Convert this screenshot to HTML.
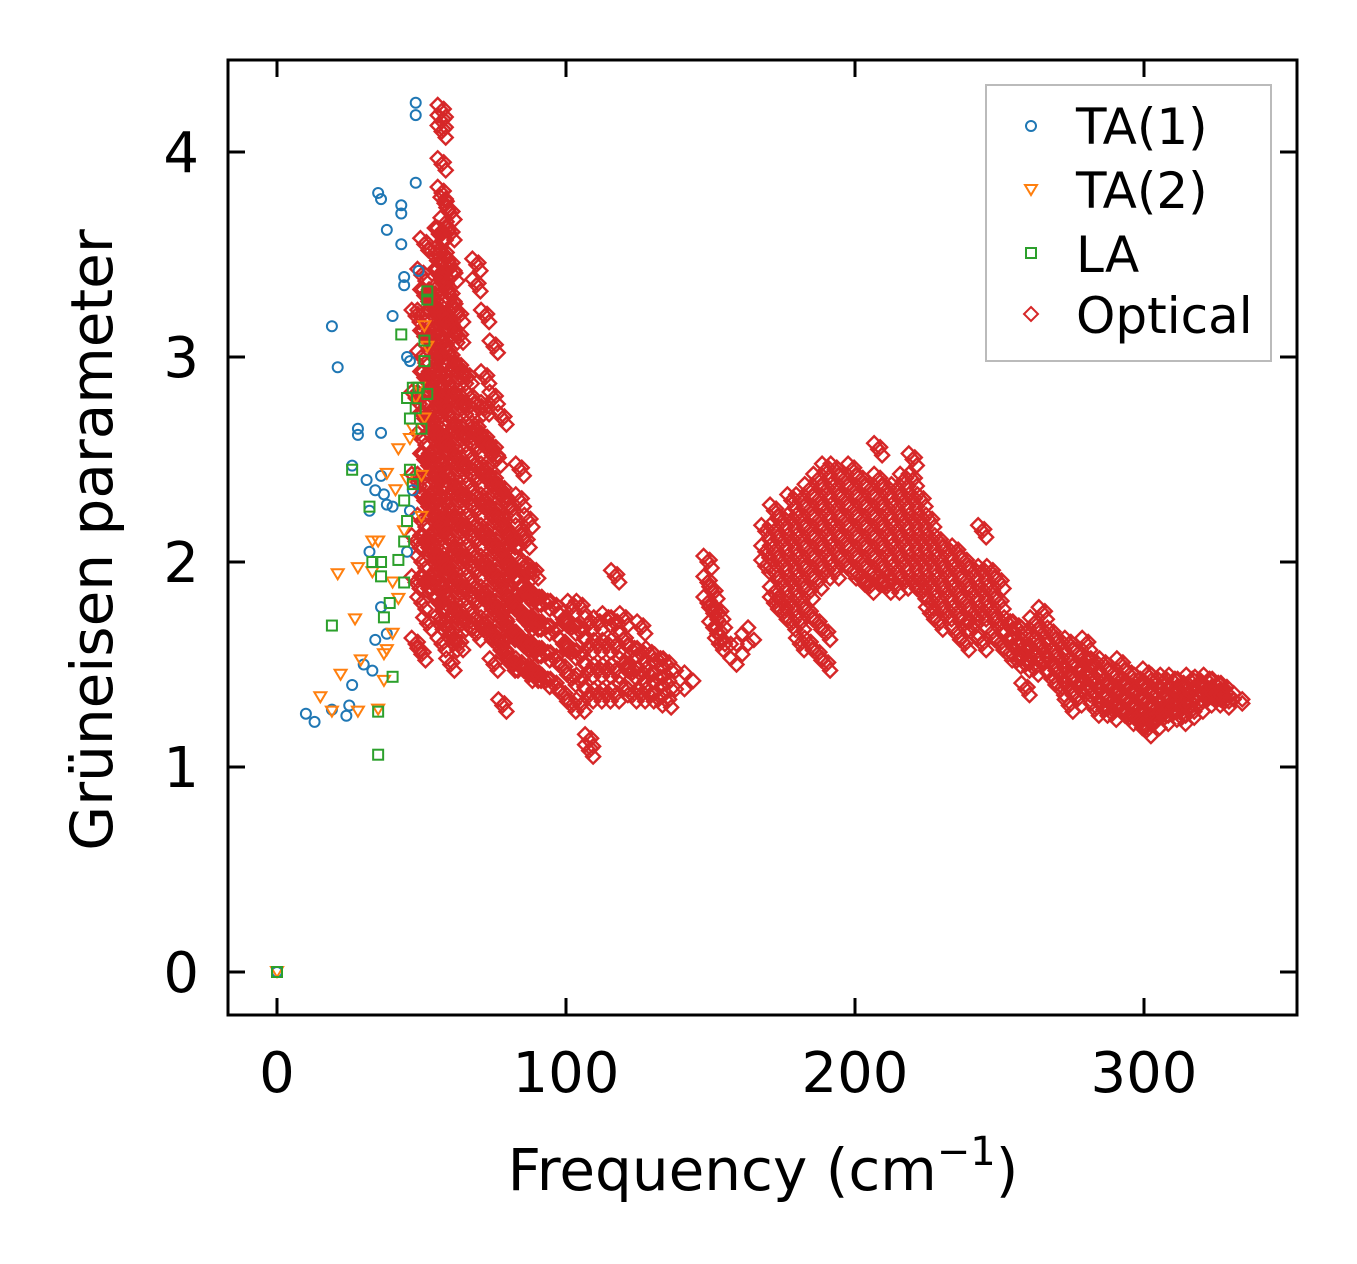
<!DOCTYPE html>
<html><head><meta charset="utf-8"><style>
body{margin:0;background:#fff}
svg{display:block;font-family:"DejaVu Sans","Liberation Sans",sans-serif}
</style></head><body>
<svg id="chart" width="1357" height="1264" viewBox="0 0 1357 1264" xmlns="http://www.w3.org/2000/svg">
<rect width="1357" height="1264" fill="#fff"/>
<g id="marks"></g>
<rect x="228" y="60" width="1069" height="955" fill="none" stroke="#000" stroke-width="3"/>
<g id="ticks"></g>
<text x="763" y="1190" font-size="58" text-anchor="middle">Frequency (cm<tspan font-size="40" dy="-25">−1</tspan><tspan dy="25">)</tspan></text>
<text transform="translate(112,540) rotate(-90)" font-size="58" text-anchor="middle">Grüneisen parameter</text>
<g>
<rect x="986" y="85" width="285" height="276" fill="#fff" stroke="#bbb" stroke-width="2"/>
<circle cx="1031" cy="126" r="5" fill="none" stroke="#1f77b4" stroke-width="2"/>
<text x="1076" y="144" font-size="50">TA(1)</text>
<path d="M1025,185 L1037,185 L1031,195 Z" fill="none" stroke="#ff7f0e" stroke-width="2"/>
<text x="1076" y="208" font-size="50">TA(2)</text>
<rect x="1026" y="248" width="10" height="10" fill="none" stroke="#2ca02c" stroke-width="2"/>
<text x="1076" y="272" font-size="50">LA</text>
<path d="M1031,307 L1038,314 L1031,321 L1024,314 Z" fill="none" stroke="#d62728" stroke-width="2"/>
<text x="1076" y="333" font-size="50">Optical</text>
</g>
</svg>
<script>
const xTicks=[0,100,200,300];
const yTicks=[0,1,2,3,4];
const ta1F=[0,10,13,19,19,21,24,25,26,26,28,28,30,31,32,32,33,34,34,35,36,36,36,36,37,38,38,38,40,40,43,43,43,44,44,45,46,48,48,48,49,45,46,47];
const ta1G=[0,1.26,1.22,1.28,3.15,2.95,1.25,1.3,2.47,1.4,2.62,2.65,1.5,2.4,2.05,2.25,1.47,2.35,1.62,3.8,3.77,2.42,2.63,1.78,2.33,3.62,2.28,1.65,3.2,2.27,3.74,3.7,3.55,3.39,3.35,3.0,2.98,4.24,4.18,3.85,3.42,2.05,2.25,2.35];
const ta2F=[0,15,19,21,22,27,28,28,29,33,33,35,35,37,37,38,38,40,40,41,42,42,44,45,46,47,48,49,50,50,51,51,52];
const ta2G=[0,1.34,1.27,1.94,1.45,1.72,1.27,1.97,1.52,2.1,1.95,2.1,1.28,1.42,1.55,1.57,2.43,1.65,1.9,2.35,2.55,1.82,2.15,2.4,2.6,2.65,2.8,2.85,2.42,2.22,2.7,3.15,3.05];
const laF=[0,19,26,32,33,35,35,36,36,37,39,40,42,43,44,44,44,45,45,46,46,47,47,48,49,50,51,51,52,52,52];
const laG=[0,1.69,2.45,2.27,2.0,1.06,1.27,1.93,2.0,1.73,1.8,1.44,2.01,3.11,2.3,2.1,1.9,2.2,2.8,2.45,2.7,2.85,2.38,2.75,2.85,2.65,2.98,3.08,3.28,3.32,2.82];
const optFreq=[48,50,51,52,54,56,57,58,60,61,63,64,66,67,69,70,72,73,75,76,78,79,81,82,84,86,87,89,90,93,96,99,102,105,108,111,114,117,120,123,126,129,132,135,138,141,144,149,151,153,155,157,159,161,163,165,169,172,175,178,181,184,187,190,193,196,199,202,205,208,211,214,217,220,223,226,229,232,235,238,241,244,247,250,253,256,259,262,265,268,271,274,277,280,283,286,289,292,295,298,301,304,307,310,313,316,319,322,325,328,331,334];
const optGamma=[
[1.6,1.9,2.1,2.4,2.8,3.2],
[1.55,1.8,2.0,2.2,2.4,2.6,2.8,3.0,3.2,3.4],
[1.9,2.1,2.3,2.5,2.7,2.9,3.1,3.3,3.55],
[1.7,1.9,2.1,2.3,2.5,2.7,2.9,3.1,3.3],
[1.9,2.0,2.1,2.2,2.3,2.4,2.5,2.6,2.7,2.8,2.9,3.0,3.1,3.2,3.3,3.5],
[1.7,1.8,1.9,2.0,2.1,2.2,2.3,2.4,2.5,2.6,2.7,2.8,2.9,3.0,3.1,3.2,3.3,3.4,3.5,3.6],
[1.6,1.8,2.0,2.2,2.4,2.6,2.8,3.0,3.2,3.4,3.6,3.8,4.1,4.2,3.94,4.15],
[1.7,1.85,2.0,2.15,2.3,2.45,2.6,2.75,2.9,3.05,3.2,3.35,3.5,3.65,3.75],
[1.5,1.65,1.8,1.95,2.1,2.25,2.4,2.55,2.7,2.85,3.0,3.15,3.3,3.45,3.6,3.7],
[1.6,1.75,1.9,2.05,2.2,2.35,2.5,2.65,2.8,2.95,3.1,3.25,3.4],
[1.6,1.75,1.9,2.05,2.2,2.35,2.5,2.65,2.8,2.95,3.1,3.2],
[1.7,1.85,2.0,2.15,2.3,2.45,2.6,2.75,2.9],
[1.7,1.85,2.0,2.15,2.3,2.45,2.6,2.75,2.9],
[1.75,1.9,2.05,2.2,2.35,2.5,2.65,2.8],
[1.65,1.8,1.95,2.1,2.25,2.4,2.55,2.65,3.45,3.35],
[1.7,1.85,2.0,2.15,2.3,2.45,2.6,2.75],
[1.7,1.85,2.0,2.15,2.3,2.45,2.6,2.75,2.9,3.2],
[1.65,1.8,1.95,2.1,2.25,2.4,2.55],
[1.5,1.65,1.8,1.95,2.1,2.25,2.4,2.55,2.8,3.05],
[1.6,1.75,1.9,2.05,2.2,2.35,2.5],
[1.3,1.6,1.75,1.9,2.05,2.2,2.35,2.7],
[1.55,1.7,1.85,2.0,2.15,2.3],
[1.5,1.65,1.8,1.95,2.1,2.25],
[1.5,1.65,1.8,1.95,2.1],
[1.5,1.62,1.75,1.88,2.0,2.15,2.3,2.45],
[1.48,1.6,1.72,1.85,1.98,2.1],
[1.45,1.58,1.7,1.83,1.95,2.2],
[1.45,1.57,1.7,1.82,1.95],
[1.45,1.57,1.7,1.82],
[1.42,1.55,1.68,1.8],
[1.4,1.53,1.66,1.78],
[1.35,1.48,1.6,1.72],
[1.3,1.43,1.56,1.68,1.78],
[1.3,1.42,1.54,1.66,1.78],
[1.08,1.13,1.35,1.47,1.59,1.7],
[1.35,1.47,1.59,1.7],
[1.35,1.47,1.59,1.72],
[1.35,1.47,1.59,1.7,1.93],
[1.38,1.5,1.62,1.72],
[1.35,1.46,1.57],
[1.35,1.45,1.55,1.68],
[1.35,1.45,1.55],
[1.33,1.43,1.52],
[1.32,1.41,1.5],
[1.38,1.47],
[1.38,1.46],
[1.42],
[2.0,1.9,1.8],
[1.85,1.75,1.68],
[1.75,1.65,1.6],
[1.68,1.6],
[1.6,1.53],
[1.5,1.6],
[1.55,1.65],
[1.6,1.68],
[1.62],
[2.15,2.05,1.98],
[2.25,2.15,2.05,1.95,1.85,1.8],
[2.2,2.1,2.0,1.9,1.8,1.75],
[2.3,2.2,2.1,2.0,1.9,1.8,1.7],
[2.3,2.2,2.1,2.0,1.9,1.8,1.7,1.6],
[2.35,2.25,2.15,2.05,1.95,1.85,1.75,1.6],
[2.4,2.3,2.2,2.1,2.0,1.9,1.7,1.55],
[2.45,2.35,2.25,2.15,2.05,1.95,1.5,1.65],
[2.45,2.35,2.25,2.15,2.05,1.95],
[2.4,2.3,2.2,2.1,2.0],
[2.45,2.35,2.25,2.15,2.05,1.95],
[2.4,2.3,2.2,2.1,2.0,1.92],
[2.35,2.25,2.15,2.05,1.95,1.88],
[2.55,2.4,2.3,2.2,2.1,2.0,1.92],
[2.35,2.25,2.15,2.05,1.95,1.88],
[2.35,2.25,2.15,2.05,1.95,1.88],
[2.4,2.3,2.2,2.1,2.0,1.9],
[2.5,2.4,2.3,2.2,2.1,2.0,1.9],
[2.3,2.2,2.1,2.0,1.9,1.85],
[2.2,2.1,2.0,1.9,1.8,1.75],
[2.1,2.0,1.9,1.8,1.7],
[2.05,1.95,1.85,1.75],
[2.05,1.95,1.85,1.75,1.65],
[2.0,1.9,1.8,1.7,1.6],
[1.95,1.85,1.75,1.68],
[2.15,1.95,1.85,1.75,1.6],
[1.95,1.85,1.75,1.65],
[1.9,1.8,1.7,1.6],
[1.7,1.62,1.55],
[1.68,1.6,1.52],
[1.65,1.57,1.5,1.38],
[1.7,1.62,1.55,1.48],
[1.75,1.65,1.57,1.5],
[1.65,1.57,1.5,1.43],
[1.6,1.52,1.45,1.38],
[1.6,1.52,1.45,1.38,1.3],
[1.55,1.47,1.4,1.33],
[1.6,1.52,1.45,1.38],
[1.5,1.42,1.35,1.28],
[1.5,1.42,1.35,1.28],
[1.45,1.38,1.32,1.26],
[1.5,1.42,1.35,1.28],
[1.45,1.38,1.31,1.24],
[1.42,1.35,1.28,1.22],
[1.45,1.38,1.31,1.24,1.18],
[1.42,1.35,1.28,1.22],
[1.42,1.35,1.28,1.24],
[1.42,1.36,1.3,1.26],
[1.4,1.34,1.28,1.24],
[1.42,1.36,1.3,1.27],
[1.41,1.35,1.3],
[1.42,1.37,1.33],
[1.4,1.36,1.33],
[1.38,1.35,1.32],
[1.36,1.33],
[1.33,1.31]
];
const NS='http://www.w3.org/2000/svg';
const X0=228,X1=1297,Y0=60,Y1=1015;
function sx(v){return 277+v*2.89;}
function sy(v){return 972-v*205;}
const marks=document.getElementById('marks');
const ticks=document.getElementById('ticks');
function mk(tag,attrs,parent){const e=document.createElementNS(NS,tag);for(const k in attrs)e.setAttribute(k,attrs[k]);parent.appendChild(e);return e;}
xTicks.forEach(v=>{
  const x=sx(v);
  const t1=mk('line',{x1:x,x2:x,y1:Y1,y2:Y1-17,stroke:'#000','stroke-width':3},ticks);
  
  
  const t2=mk('line',{x1:x,x2:x,y1:Y0,y2:Y0+17,stroke:'#000','stroke-width':3},ticks);
  
  
  const l=mk('text',{x:x,y:1092,'font-size':56,'text-anchor':'middle'},ticks);
  l.textContent=v;
  
  
});
yTicks.forEach(v=>{
  const y=sy(v);
  const t1=mk('line',{x1:X0,x2:X0+17,y1:y,y2:y,stroke:'#000','stroke-width':3},ticks);
  
  
  const t2=mk('line',{x1:X1,x2:X1-17,y1:y,y2:y,stroke:'#000','stroke-width':3},ticks);
  
  
  const l=mk('text',{x:199,y:y+20,'font-size':56,'text-anchor':'end'},ticks);
  l.textContent=v;
  
  
});
// optical: each point drawn as a small cluster of overlapping diamonds (dense-scatter look)
const clusterDx=[0,4,-4,2];
const clusterDy=[0,6,-6,-2];
optFreq.forEach((f,i)=>{
  const n=optGamma[i].length;
  optGamma[i].forEach(g=>{
    const x=sx(f),y=sy(g);
    const k=n>=3?4:1;
    let d='';
    for(let j=0;j<k;j++){const cx=x+clusterDx[j],cy=y+clusterDy[j];d+=`M${cx},${cy-7} L${cx+7},${cy} L${cx},${cy+7} L${cx-7},${cy} Z `;}
    const p=mk('path',{d:d,fill:'none',stroke:'#d62728','stroke-width':2.4},marks);
    
    
  });
});
ta1F.forEach((f,i)=>{
  const c=mk('circle',{cx:sx(f),cy:sy(ta1G[i]),r:5,fill:'none',stroke:'#1f77b4','stroke-width':2},marks);
  
  
});
ta2F.forEach((f,i)=>{
  const x=sx(f),y=sy(ta2G[i]);
  const p=mk('path',{d:`M${x-6},${y-5} L${x+6},${y-5} L${x},${y+5} Z`,fill:'none',stroke:'#ff7f0e','stroke-width':2},marks);
  
  
});
laF.forEach((f,i)=>{
  const x=sx(f),y=sy(laG[i]);
  const r=mk('rect',{x:x-5,y:y-5,width:10,height:10,fill:'none',stroke:'#2ca02c','stroke-width':2},marks);
  
  
});
</script>
</body></html>
